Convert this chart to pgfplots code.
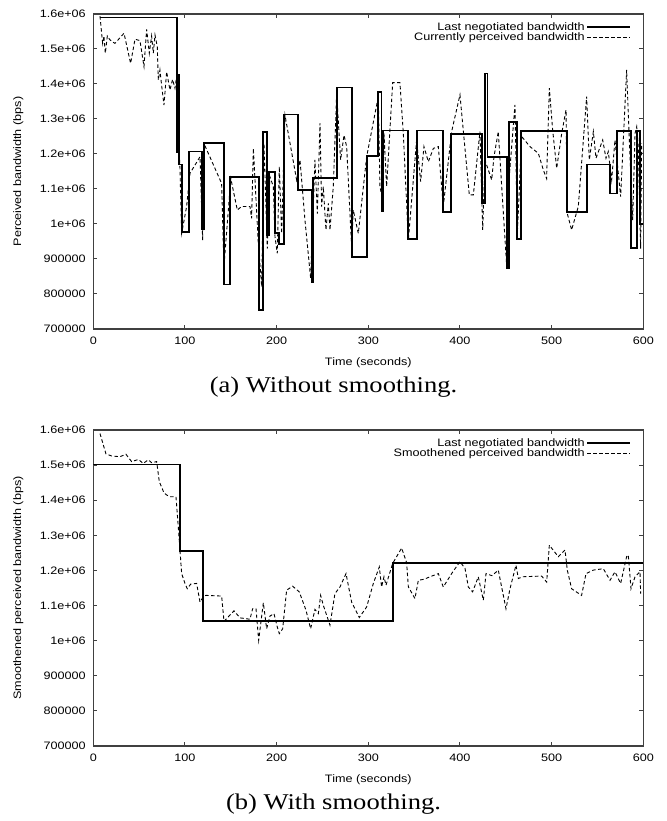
\documentclass[border=0pt]{standalone}
\usepackage{fontspec}
\setmainfont[FakeStretch=1.18]{Liberation Serif}
\newfontfamily\gpfont[FakeStretch=1.17]{Liberation Sans}
\usepackage{pgfplots}
\pgfplotsset{compat=1.18}

\newcommand\gpsize{\gpfont\fontsize{10.8bp}{12bp}\selectfont}

\pgfplotsset{
  bwplot/.style={
    scale only axis, width=550bp, height=315bp,
    xmin=0, xmax=600, ymin=700000, ymax=1600000,
    xtick={0,100,200,300,400,500,600},
    xticklabels={0,100,200,300,400,500,600},
    ytick={700000,800000,900000,1000000,1100000,1200000,1300000,1400000,1500000,1600000},
    yticklabels={700000,800000,900000,1e+06,1.1e+06,1.2e+06,1.3e+06,1.4e+06,1.5e+06,1.6e+06},
    scaled y ticks=false, scaled x ticks=false,
    tick align=inside, major tick length=4bp,
    axis line style={line width=1.3bp, color=black!75},
    every tick/.style={line width=1bp, color=black!75},
    ticklabel style={font=\gpsize},
    xticklabel style={yshift=-4bp},
    yticklabel style={xshift=-4bp},
    label style={font=\gpsize},
    xlabel={Time (seconds)},
    xlabel style={at={(axis description cs:0.5,0)}, anchor=center, yshift=-34bp},
    ylabel style={at={(axis description cs:-0.1364,0.5)}, anchor=center},
    legend cell align=right, legend plot pos=right,
    legend style={draw=none, fill=none, font=\gpsize,
      at={(axis description cs:1,1)}, anchor=north east,
      xshift=-9bp, yshift=-5bp, row sep=-2bp,
      nodes={inner sep=1.5bp}},
    legend image code/.code={\draw[##1] (0bp,0bp) -- (43bp,0bp);},
  },
  negotiated/.style={black, line width=1.8bp, const plot},
  perceived/.style={black, line width=0.9bp, dash pattern=on 3.5bp off 2.5bp},
}

\begin{document}
\begin{tikzpicture}
\useasboundingbox (0bp,0bp) rectangle (667bp,821bp);

% (a) raw perceived bandwidth
\begin{axis}[bwplot, at={(93.3bp,492bp)}, anchor=south west,
  ylabel={Perceived bandwidth (bps)}]
\addplot[negotiated] table {
7.3 1590000
91.0 1205000
92.5 1425000
93.5 1170000
96.4 977000
104.4 1207000
118.2 985000
120.7 1232000
142.2 827000
149.1 1134000
181.1 754000
184.7 1262000
189.1 968000
192.0 1149000
198.2 975000
202.9 942000
208.0 1313000
223.7 1098000
238.2 833000
240.0 1132000
265.5 1390000
281.8 905000
299.0 1194000
310.9 1376000
314.5 1037000
316.4 1267000
343.7 958000
352.7 1267000
381.8 1034000
389.8 1256000
424.4 1059000
427.3 1430000
430.0 1192000
451.7 875000
453.5 1292000
462.6 958000
466.2 1266000
516.4 1035000
538.2 1170000
563.7 1087000
571.0 1265000
586.6 932000
592.8 1265000
596.5 1000000
600.0 1000000
};
\addlegendentry{Last negotiated bandwidth}
\addplot[perceived] table {
7.3 1594000
9.1 1545000
10.2 1516000
11.6 1537000
13.1 1488000
15.3 1537000
18.2 1526000
23.6 1516000
33.5 1545000
40.7 1459000
45.5 1528000
50.9 1524000
55.3 1450000
58.2 1556000
61.1 1488000
63.6 1537000
65.5 1488000
67.3 1540000
69.8 1507000
70.9 1411000
72.7 1440000
74.5 1397000
77.1 1340000
80.0 1435000
83.6 1383000
86.5 1413000
89.1 1388000
90.9 1421000
92.7 1259000
94.5 1164000
96.4 973000
101.8 1050000
105.5 1145000
116.4 1192000
119.3 954000
120.7 1230000
140.0 1116000
142.5 878000
150.0 1130000
157.1 1040000
161.8 1050000
170.9 1050000
172.7 1016000
174.6 1216000
180.0 945000
183.7 821000
186.2 1230000
189.8 930000
192.7 1135000
196.4 1107000
198.2 964000
200.7 916000
202.9 1164000
205.5 973000
209.1 1311000
221.8 1126000
225.5 1183000
230.9 1011000
237.1 845000
241.8 1183000
244.4 1030000
247.3 1288000
249.1 1050000
250.9 1107000
253.8 983000
256.4 1059000
258.2 983000
261.8 1107000
265.5 1373000
269.8 1183000
273.5 1254000
276.4 1221000
281.8 935000
283.6 1040000
289.1 973000
298.2 1192000
310.9 1364000
312.7 1107000
315.6 1069000
317.1 1259000
320.0 1107000
326.6 1404000
334.5 1404000
338.2 1259000
343.7 954000
352.7 1240000
357.1 1121000
360.7 1221000
365.5 1178000
371.0 1216000
376.4 1221000
381.8 1050000
390.9 1264000
400.0 1369000
410.2 1083000
414.6 1083000
421.8 1264000
424.8 983000
427.3 1183000
434.6 1126000
437.1 1192000
441.8 1264000
451.0 878000
453.8 1135000
460.0 1340000
462.6 973000
467.3 1250000
476.4 1221000
485.5 1202000
491.0 1154000
494.5 1130000
497.5 1388000
501.1 1269000
505.5 1159000
511.0 1259000
515.7 1326000
517.1 1030000
521.8 983000
529.1 1050000
538.2 1364000
541.1 1183000
545.5 1264000
548.4 1188000
555.7 1240000
559.3 1188000
561.8 1207000
565.5 1126000
569.1 1240000
575.3 1078000
581.8 1440000
585.5 1192000
588.4 1011000
591.0 1259000
592.8 1278000
594.5 1221000
597.1 930000
598.2 1231000
};
\addlegendentry{Currently perceived bandwidth}
\end{axis}

% (b) smoothed perceived bandwidth
\begin{axis}[bwplot, at={(93.3bp,75bp)}, anchor=south west, height=316bp,
  ylabel={Smoothened perceived bandwidth (bps)}]
\addplot[negotiated] table {
0.0 1502000
94.5 1255000
120.0 1055000
326.6 1222000
600.0 1222000
};
\addlegendentry{Last negotiated bandwidth}
\addplot[perceived] table {
7.3 1590000
13.8 1532000
20.0 1526000
29.1 1524000
35.6 1531000
41.8 1510000
49.1 1516000
54.5 1505000
60.0 1515000
63.6 1507000
69.1 1510000
72.0 1453000
77.1 1421000
80.0 1415000
83.6 1410000
90.2 1410000
92.7 1324000
96.4 1191000
100.0 1163000
102.5 1148000
106.2 1161000
112.7 1163000
116.4 1110000
120.0 1125000
122.9 1129000
140.0 1127000
142.6 1055000
153.5 1085000
160.0 1065000
170.9 1061000
173.8 1091000
177.5 1091000
180.4 1001000
185.5 1108000
189.1 1034000
192.7 1070000
197.1 1077000
200.7 1039000
202.9 1020000
206.6 1034000
210.9 1144000
217.5 1155000
224.7 1139000
232.0 1087000
237.1 1034000
241.8 1089000
245.5 1077000
248.0 1129000
250.9 1101000
258.2 1044000
263.6 1134000
269.1 1153000
275.7 1191000
281.8 1110000
290.2 1066000
298.2 1096000
305.5 1163000
312.0 1210000
314.5 1153000
317.1 1182000
319.3 1158000
326.6 1220000
336.4 1264000
341.8 1222000
343.7 1153000
350.9 1120000
354.6 1172000
361.0 1175000
367.3 1182000
376.4 1191000
381.8 1153000
390.9 1191000
400.0 1225000
405.5 1206000
409.1 1153000
413.8 1139000
420.0 1182000
425.5 1115000
428.4 1191000
435.0 1185000
441.8 1201000
450.2 1091000
454.6 1148000
461.1 1215000
463.7 1177000
468.4 1182000
489.1 1184000
494.6 1167000
497.5 1272000
507.3 1239000
514.6 1258000
517.1 1201000
521.8 1148000
532.7 1129000
537.5 1191000
545.5 1201000
556.4 1205000
563.7 1172000
569.1 1196000
575.3 1163000
581.8 1239000
583.6 1244000
586.6 1148000
591.0 1182000
596.4 1196000
597.1 1134000
};
\addlegendentry{Smoothened perceived bandwidth}
\end{axis}

\node[font=\fontsize{22.5bp}{26bp}\selectfont] at (333.5bp,434bp) {(a) Without smoothing.};
\node[font=\fontsize{22.5bp}{26bp}\selectfont] at (333.5bp,17bp) {(b) With smoothing.};
\end{tikzpicture}
\end{document}
